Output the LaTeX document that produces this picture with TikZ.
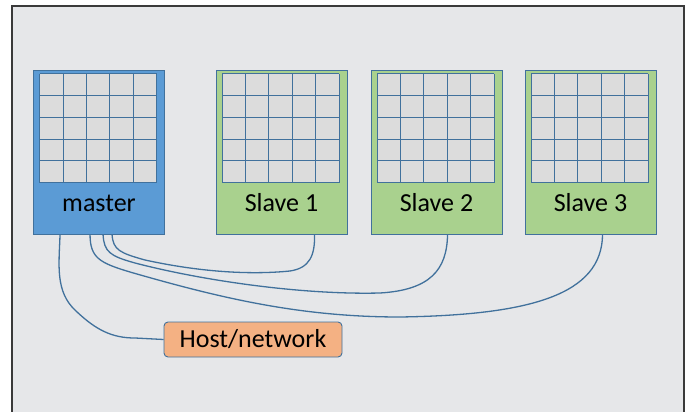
\documentclass[tikz,border=0pt]{standalone}
\usepackage{fontspec}
\setmainfont{Carlito}
\definecolor{panelfill}{HTML}{E6E7E9}
\definecolor{panelline}{HTML}{3A3A3A}
\definecolor{masterfill}{HTML}{5B9BD5}
\definecolor{slavefill}{HTML}{A9D18E}
\definecolor{hostfill}{HTML}{F4B183}
\definecolor{edgeblue}{HTML}{41719C}
\definecolor{cellfill}{HTML}{DCDCDC}
\tikzset{
  machine/.style={draw=edgeblue, line width=0.9pt, minimum width=131pt,
    minimum height=164pt, inner sep=0pt},
  lbl/.style={font=\fontsize{26}{30}\selectfont, inner sep=0pt, text=black},
  hostbox/.style={draw=edgeblue, line width=0.9pt, fill=hostfill,
    rounded corners=4pt, minimum width=178pt, minimum height=35pt, inner sep=0pt,
    font=\fontsize{26}{30}\selectfont},
  wire/.style={draw=edgeblue, line width=1.3pt},
  cellgrid/.pic={
    \fill[cellfill] (0,0) rectangle (117,109);
    \foreach \i in {0,...,5} {
      \draw[edgeblue, line width=0.9pt] (\i*23.4,0) -- (\i*23.4,109);
      \draw[edgeblue, line width=0.9pt] (0,\i*21.8) -- (117,\i*21.8);
    }
  }
}
\begin{document}
\begin{tikzpicture}[x=1pt,y=-1pt]
\useasboundingbox (0,0) rectangle (686,412);
\fill[white] (0,0) rectangle (686,412);
\draw[panelline, line width=1.3pt, fill=panelfill] (12,6) rectangle (684,420);

% machines
\node[machine, fill=masterfill] (master) at (99,152) {};
\node[machine, fill=slavefill] (slave1) at (281.5,152) {};
\node[machine, fill=slavefill] (slave2) at (436.5,152) {};
\node[machine, fill=slavefill] (slave3) at (590.5,152) {};

\foreach \m in {master,slave1,slave2,slave3}
  \pic at ([xshift=6.5pt,yshift=-4pt]\m.north west) {cellgrid};

\node[lbl] (mastertxt) at (99,203) {master};
\node[lbl] (slave1txt) at (281.5,203) {Slave 1};
\node[lbl] (slave2txt) at (436.5,203) {Slave 2};
\node[lbl] (slave3txt) at (590.5,203) {Slave 3};

% host
\node[hostbox] (host) at (253,339.5) {Host/network};

% wire end points
\coordinate (mh) at ([xshift=27pt]master.south west);
\coordinate (m3) at ([xshift=57pt]master.south west);
\coordinate (m2) at ([xshift=70pt]master.south west);
\coordinate (m1) at ([xshift=79pt]master.south west);
\coordinate (s1) at ([xshift=99pt]slave1.south west);
\coordinate (s2) at ([xshift=77pt]slave2.south west);
\coordinate (s3) at ([xshift=78pt]slave3.south west);

% wires
\draw[wire] (mh) .. controls (59,265) and (55,292) .. (76,311)
  .. controls (96,330) and (112,338) .. (135,338) -- (host.west);
\draw[wire] (m3) .. controls (90,258) and (100,263) .. (130,272)
  .. controls (220,298) and (300,317) .. (400,317)
  .. controls (530,315) and (602,295) .. (s3);
\draw[wire] (m2) .. controls (104,252) and (110,256) .. (135,263)
  .. controls (200,280) and (300,295) .. (380,293)
  .. controls (430,290) and (447,270) .. (s2);
\draw[wire] (m1) .. controls (113,250) and (120,253) .. (145,260)
  .. controls (200,272) and (250,275) .. (290,271)
  .. controls (310,268) and (315,255) .. (s1);
\end{tikzpicture}
\end{document}
